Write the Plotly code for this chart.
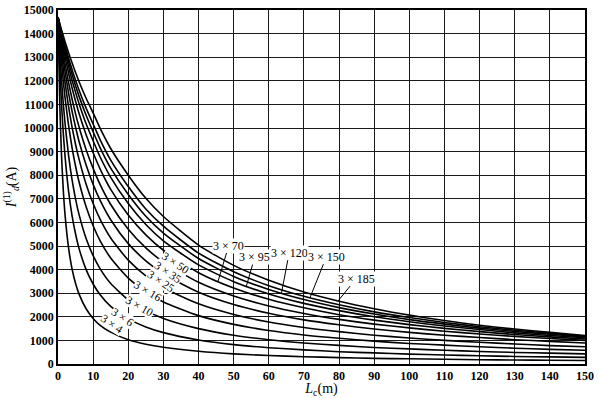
import plotly.graph_objects as go

# Cable length L_c (m)
L = [0, 0.5, 1, 1.5, 2, 3, 4, 5, 6, 8, 10, 12, 15, 20, 25, 30, 40, 50, 60,
     70, 80, 90, 100, 110, 120, 130, 140, 150]

# Single-phase short-circuit current I_d(1) (A) for each cable section
I_3x4 = [14700, 11050, 8850, 7380, 6330, 4930, 4030, 3410, 2960, 2340, 1930, 1640,
         1350, 1030, 840, 710, 540, 430, 360, 310, 270, 240, 220, 200, 180, 170, 160, 150]
I_3x6 = [14700, 12600, 11020, 9800, 8810, 7340, 6290, 5510, 4890, 4000, 3390, 2930,
         2440, 1910, 1570, 1330, 1020, 820, 690, 600, 520, 470, 420, 380, 350, 320, 300, 280]
I_3x10 = [14700, 13250, 12050, 11050, 10200, 8850, 7810, 6990, 6330, 5320, 4590, 4030,
          3410, 2720, 2260, 1930, 1500, 1220, 1030, 890, 790, 700, 640, 580, 530, 490, 460, 430]
I_3x16 = [14700, 13670, 12780, 11990, 11290, 10120, 9170, 8380, 7710, 6660, 5860, 5220,
          4490, 3640, 3050, 2630, 2050, 1680, 1420, 1230, 1090, 970, 870, 800, 730, 670, 620, 580]
I_3x25 = [14700, 13900, 13180, 12520, 11930, 10910, 10040, 9300, 8670, 7620, 6800, 6130,
          5340, 4400, 3730, 3230, 2550, 2100, 1780, 1550, 1370, 1220, 1100, 1000, 920, 850, 780, 730]
I_3x35 = [14700, 14050, 13450, 12900, 12400, 11490, 10710, 10030, 9430, 8430, 7610, 6930,
          6110, 5100, 4370, 3820, 3040, 2520, 2150, 1870, 1660, 1480, 1340, 1220, 1120, 1030, 960, 890]
I_3x50 = [14700, 14160, 13650, 13180, 12730, 11930, 11230, 10600, 10040, 9080, 8290, 7600,
          6760, 5710, 4920, 4320, 3460, 2880, 2460, 2140, 1890, 1690, 1530, 1390, 1270, 1170, 1080, 1000]
I_3x70 = [14700, 14250, 13820, 13410, 13030, 12330, 11700, 11130, 10610, 9710, 8950, 8260,
          7400, 6310, 5470, 4820, 3870, 3220, 2740, 2380, 2090, 1860, 1670, 1510, 1370, 1250, 1150, 1060]
I_3x95 = [14700, 14310, 13930, 13580, 13240, 12610, 12030, 11510, 11030, 10180, 9460, 8770,
          7910, 6800, 5910, 5220, 4200, 3490, 2970, 2570, 2260, 2000, 1790, 1610, 1460, 1320, 1210, 1110]
I_3x120 = [14700, 14350, 14010, 13690, 13380, 12810, 12280, 11790, 11340, 10540, 9840, 9160,
           8300, 7180, 6260, 5550, 4470, 3710, 3160, 2730, 2390, 2120, 1880, 1690, 1520, 1380, 1260, 1150]
I_3x150 = [14700, 14380, 14080, 13780, 13500, 12970, 12480, 12020, 11600, 10840, 10170, 9500,
           8640, 7520, 6570, 5840, 4700, 3910, 3320, 2870, 2510, 2210, 1970, 1760, 1580, 1430, 1300, 1180]
I_3x185 = [14700, 14430, 14160, 13910, 13660, 13190, 12760, 12350, 11960, 11260, 10640, 9980,
           9130, 8000, 7020, 6250, 5040, 4180, 3550, 3050, 2660, 2340, 2070, 1840, 1640, 1480, 1340, 1210]

series = [I_3x4, I_3x6, I_3x10, I_3x16, I_3x25, I_3x35, I_3x50,
          I_3x70, I_3x95, I_3x120, I_3x150, I_3x185]
names = ["3×4", "3×6", "3×10", "3×16", "3×25", "3×35", "3×50",
         "3×70", "3×95", "3×120", "3×150", "3×185"]

x_ticks = list(range(0, 151, 10))
y_ticks = list(range(0, 15001, 1000))

FONT = "Liberation Serif, Times New Roman, serif"

fig = go.Figure()
for nm, ys in zip(names, series):
    fig.add_trace(go.Scatter(x=L, y=ys, mode="lines", name=nm,
                             line=dict(color="black", width=1.6, shape="spline",
                                       smoothing=0.6),
                             showlegend=False, hoverinfo="skip"))

# rotated labels placed along the small-section curves
rot_labels = [("3 × 50", 33.5, 4300, 34), ("3 × 35", 31.2, 3880, 34),
              ("3 × 25", 29.2, 3500, 34), ("3 × 16", 25.6, 3090, 31),
              ("3 × 10", 23.2, 2470, 30), ("3 × 6", 18.4, 2010, 34),
              ("3 × 4", 15.5, 1690, 34)]
annotations = []
for txt, xx, yy, ang in rot_labels:
    annotations.append(dict(x=xx, y=yy, xref="x", yref="y", text=txt,
                            showarrow=False, textangle=ang,
                            bgcolor="white", borderpad=0,
                            font=dict(family=FONT, size=11.5, color="black")))

# leader-line labels for the large-section curves: (text, curve point, label point)
lead_labels = [("3 × 70", 45.5, 3480, 48.6, 5020),
               ("3 × 95", 53.6, 3290, 56.0, 4530),
               ("3 × 120", 63.6, 2990, 65.8, 4720),
               ("3 × 150", 71.7, 2800, 76.4, 4550),
               ("3 × 185", 79.7, 2670, 84.9, 3620)]
for txt, px, py, lx, ly in lead_labels:
    annotations.append(dict(x=px, y=py, xref="x", yref="y", ax=lx, ay=ly,
                            axref="x", ayref="y", text=txt, showarrow=True,
                            arrowhead=0, arrowwidth=1, arrowcolor="black",
                            bgcolor="white", borderpad=0,
                            font=dict(family=FONT, size=12, color="black")))

axis_common = dict(showgrid=True, gridcolor="#1a1a1a", gridwidth=1.2,
                   showline=True, linecolor="black", linewidth=1.5, mirror=True,
                   zeroline=False, ticks="", automargin=False,
                   tickfont=dict(family=FONT, size=12, color="black", weight="bold"))

fig.update_xaxes(range=[0, 150], tickvals=x_ticks, ticktext=[str(v) for v in x_ticks],
                 title=dict(text="<i>L</i><sub>c</sub>(m)", standoff=6,
                            font=dict(family=FONT, size=14, color="black")),
                 **axis_common)
fig.update_yaxes(range=[0, 15000], tickvals=y_ticks, ticktext=[str(v) for v in y_ticks],
                 title=dict(text="<i>I</i><sup>(1)</sup><sub><i>d</i></sub>(A)", standoff=4,
                            font=dict(family=FONT, size=14, color="black")),
                 **axis_common)

fig.update_layout(width=600, height=398, plot_bgcolor="white", paper_bgcolor="white",
                  margin=dict(l=58, r=15, t=10, b=34),
                  annotations=annotations, showlegend=False)

# remove the default page margin so the 600x398 figure fills the window exactly
fig.write_html("out.html", config={"displayModeBar": False},
               post_script="document.body.style.margin='0';")
